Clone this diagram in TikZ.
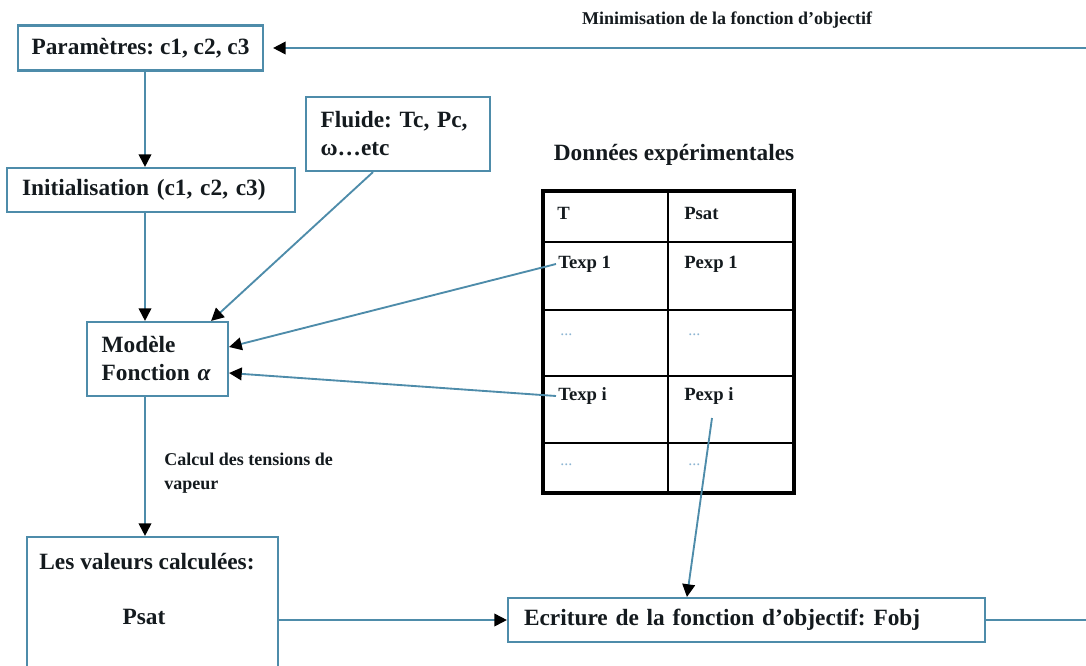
\documentclass[tikz,border=0pt]{standalone}
\usepackage{fontspec}
\setmainfont{Liberation Serif}
\usetikzlibrary{arrows.meta,calc}
\definecolor{lnc}{RGB}{78,140,170}
\definecolor{txt}{RGB}{20,26,30}
\definecolor{dotc}{RGB}{140,180,210}
\frenchspacing
\begin{document}
\begin{tikzpicture}[x=0.75pt,y=-0.75pt,
  bx/.style={draw=lnc,line width=1.6pt,text=txt,font=\bfseries\fontsize{17.5}{21}\selectfont,inner ysep=0pt},
  conn/.style={draw=lnc,line width=1.4pt},
  arr/.style={conn,-{Triangle[color=black,length=9.5pt,width=9.5pt]}},
  lbl/.style={text=txt,font=\bfseries\fontsize{13.5}{18}\selectfont,inner sep=0pt},
  cell/.style={text=txt,font=\bfseries\fontsize{14}{17}\selectfont,inner sep=0pt,anchor=west},
  dotcell/.style={text=dotc,font=\fontsize{12}{14}\selectfont,inner sep=0pt,anchor=west},
  tbl/.style={line width=2.6pt,draw=black},
  tbli/.style={line width=2.1pt,draw=black}
]
\useasboundingbox (0,0) rectangle (1086,665);
\clip (0,0) rectangle (1086,665);

% boxes
\node[bx,minimum width=245*0.75pt,minimum height=45*0.75pt] (par) at (140.5,48) {Paramètres: c1, c2, c3};
\node[bx,minimum height=44*0.75pt,inner xsep=11.25pt,text width=193.5pt,align=left] (ini) at (151,190) {Initialisation (c1, c2, c3)};
\node[bx,minimum height=74*0.75pt,inner xsep=11pt,text width=116pt,align=left] (flu) at (398,134) {Fluide: Tc, Pc,\\ω\ldots etc};
\node[bx,minimum height=74*0.75pt,inner xsep=11pt,text width=83.75pt,align=left] (mod) at (157.5,359) {Modèle\\Fonction \textit{α}};
\node[bx,minimum width=251*0.75pt,minimum height=183*0.75pt] (val) at (152.5,628.5) {};
\node[lbl,font=\bfseries\fontsize{17.5}{21}\selectfont] (valt) at (147,562) {Les valeurs calculées:};
\node[lbl,font=\bfseries\fontsize{17.5}{21}\selectfont] (valp) at (144,617) {Psat};
\node[bx,minimum height=44*0.75pt,inner xsep=12pt,text width=333.75pt,align=left] (fobj) at (746.5,620) {Ecriture de la fonction d'objectif: Fobj};

% labels
\node[lbl] (minlab) at (727,20) {Minimisation de la fonction d'objectif};
\node[lbl,anchor=north west,align=left] (callab) at (164,453) {Calcul des tensions de\\vapeur};
\node[lbl,font=\bfseries\fontsize{17.5}{21}\selectfont] (dexp) at (674,155) {Données expérimentales};

% table
\draw[tbl] (543,191) rectangle (794,493);
\draw[tbli] (668,191) -- (668,493);
\foreach \yy in {242,310,376,443} \draw[tbli] (543,\yy) -- (794,\yy);
\node[cell] (tT) at (557,213) {T};
\node[cell] (tP) at (684,213) {Psat};
\node[cell] (texp1) at (558,264) {Texp 1};
\node[cell] (pexp1) at (684,264) {Pexp 1};
\node[dotcell] (d1) at (560,335) {...};
\node[dotcell] (d2) at (688,335) {...};
\node[cell] (texpi) at (558,396) {Texp i};
\node[cell] (pexpi) at (684,396) {Pexp i};
\node[dotcell] (d3) at (560,465) {...};
\node[dotcell] (d4) at (688,465) {...};

% connectors
\coordinate (trunk) at (145,0);
\coordinate (pstart) at (712,418);
\coordinate (rc) at (1096,0);
\draw[arr] (par.south -| trunk) -- (ini.north -| trunk);
\draw[arr] (ini.south -| trunk) -- (mod.north -| trunk);
\draw[arr] (flu.south -| 373,0) -- ($(mod.north east)+(-18,0)$);
\draw[arr] ($(texp1.west)+(-2,0)$) -- ($(mod.east)+(0,-12)$);
\draw[arr] ($(texpi.west)+(-2,0)$) -- ($(mod.east)+(0,14)$);
\draw[arr] (mod.south -| trunk) -- (val.north -| trunk);
\draw[arr] (val.east |- fobj.west) -- (fobj.west);
\draw[arr] (pstart) -- ($(fobj.north west)+(180,0)$);
\draw[arr,shorten >=6.75pt] (fobj.east) -- (fobj.east -| rc) -- (par.east -| rc) -- (par.east);
\end{tikzpicture}
\end{document}
